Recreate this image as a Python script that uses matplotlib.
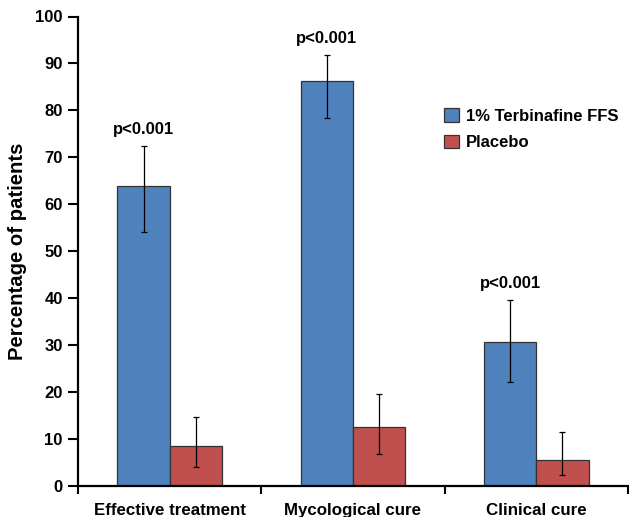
import numpy as np
import matplotlib
matplotlib.use("Agg")
import matplotlib.pyplot as plt

plt.rcParams['font.family'] = ['Liberation Sans', 'DejaVu Sans']
plt.rcParams['font.weight'] = 'bold'

# data
categories = ["Effective treatment", "Mycological cure", "Clinical cure"]
terbinafine = [64.0, 86.3, 30.6]
terb_low = [54.0, 78.4, 22.2]
terb_high = [72.4, 91.8, 39.6]
placebo = [8.6, 12.5, 5.6]
plac_low = [4.0, 6.8, 2.3]
plac_high = [14.8, 19.5, 11.5]
p_labels = ["p<0.001", "p<0.001", "p<0.001"]
series_names = ["1% Terbinafine FFS", "Placebo"]

blue = '#4F81BD'
red = '#C0504D'

fig = plt.figure(figsize=(6.29, 5.17), dpi=100, facecolor='white')
ax = fig.add_axes([78 / 629, 31 / 517, 550 / 629, 469.5 / 517])

x = np.arange(len(categories)) + 0.5
w = 0.285

t = np.array(terbinafine)
p = np.array(placebo)
t_err = [t - np.array(terb_low), np.array(terb_high) - t]
p_err = [p - np.array(plac_low), np.array(plac_high) - p]

ax.bar(x - w / 2, t, w, color=blue, edgecolor='#333333', linewidth=0.9,
       label=series_names[0], zorder=2)
ax.bar(x + w / 2, p, w, color=red, edgecolor='#333333', linewidth=0.9,
       label=series_names[1], zorder=2)
ax.errorbar(x - w / 2, t, yerr=t_err, fmt='none', ecolor='black',
            elinewidth=0.9, capsize=2.5, capthick=0.9, zorder=3)
ax.errorbar(x + w / 2, p, yerr=p_err, fmt='none', ecolor='black',
            elinewidth=0.9, capsize=2.5, capthick=0.9, zorder=3)

# p-value labels above the terbinafine error bars
for xi, hi, lab in zip(x - w / 2, terb_high, p_labels):
    ax.text(xi, hi + 2.0, lab, ha='center', va='bottom', fontsize=12,
            fontweight='bold')

ax.set_xlim(0, 3)
ax.set_ylim(0, 100)
ax.set_yticks(np.arange(0, 101, 10))
ax.set_xticks(x)
ax.set_xticklabels(categories)
ax.set_xticks([0, 1, 2, 3], minor=True)
ax.tick_params(axis='x', which='major', length=0, pad=12.5, labelsize=12.2)
ax.tick_params(axis='x', which='minor', length=6, width=1.5, direction='out')
ax.tick_params(axis='y', length=7, width=1.5, pad=4, labelsize=12)

ax.set_ylabel("Percentage of patients", fontsize=14.6, fontweight='bold',
              labelpad=6)

for side in ['top', 'right']:
    ax.spines[side].set_visible(False)
for side in ['left', 'bottom']:
    ax.spines[side].set_linewidth(1.6)

ax.legend(loc='upper left', bbox_to_anchor=(444 / 629, 1 - 108 / 517),
          bbox_transform=fig.transFigure, frameon=False, fontsize=12,
          handlelength=0.9, handleheight=0.9, handletextpad=0.4,
          labelspacing=0.65, borderpad=0, borderaxespad=0)

fig.savefig("out.png", dpi=100)
